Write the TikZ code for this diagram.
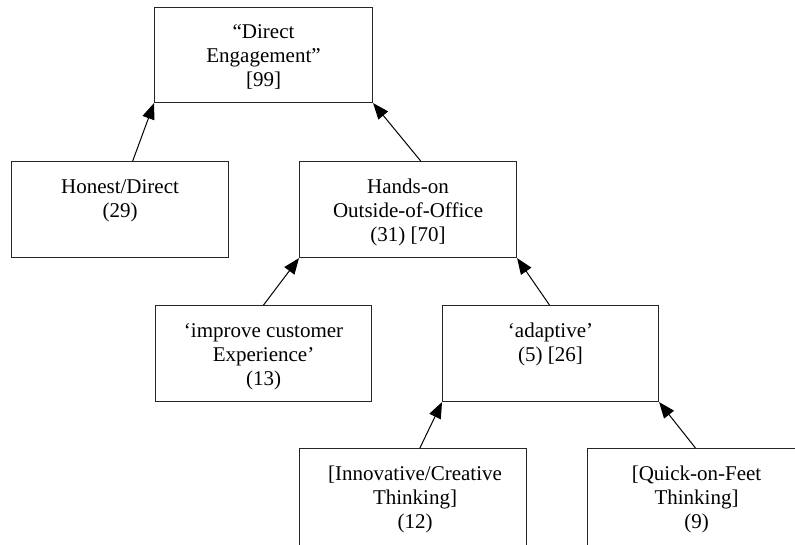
\documentclass[tikz,border=0pt]{standalone}
\usepackage{fontspec}
\setmainfont{Liberation Serif}
\usetikzlibrary{arrows.meta,calc}
\begin{document}
\begin{tikzpicture}[x=1pt,y=-1pt,
  boxnode/.style={draw=black!85,line width=1.1pt,inner sep=0pt,anchor=north west},
  txt/.style={anchor=north,inner sep=0pt,align=center,font=\fontsize{21}{24}\selectfont},
  link/.style={line width=1pt,-{Triangle[length=16pt,width=12.5pt]}}]
\useasboundingbox (0,0) rectangle (795,544);
\begin{scope}
\clip (0,0) rectangle (795,544);
\node[boxnode,minimum width=218pt,minimum height=95pt] (b1) at (154,7) {};
\node[boxnode,minimum width=217pt,minimum height=96pt] (b2) at (11,161) {};
\node[boxnode,minimum width=217pt,minimum height=96pt] (b3) at (299,161) {};
\node[boxnode,minimum width=216pt,minimum height=96pt] (b4) at (155,305) {};
\node[boxnode,minimum width=216pt,minimum height=96pt] (b5) at (442,305) {};
\node[boxnode,minimum width=227pt,minimum height=110pt] (b6) at (299,448) {};
\node[boxnode,minimum width=218pt,minimum height=110pt] (b7) at (587,448) {};
\end{scope}
\node[txt] (t1) at ($(b1.north)+(0,14.2)$) {\strut“Direct\\Engagement”\\{}[99]};
\node[txt] (t2) at ($(b2.north)+(0,15.2)$) {\strut Honest/Direct\\(29)};
\node[txt] (t3) at ($(b3.north)+(0,15.2)$) {\strut Hands-on\\Outside-of-Office\\(31) [70]};
\node[txt] (t4) at ($(b4.north)+(0,15.2)$) {\strut‘improve customer\\Experience’\\(13)};
\node[txt] (t5) at ($(b5.north)+(0,15.2)$) {\strut‘adaptive’\\(5) [26]};
\node[txt] (t6) at ($(b6.north)+(2,15.2)$) {\strut[Innovative/Creative\\Thinking]\\(12)};
\node[txt] (t7) at ($(b7.north)+(0,15.2)$) {\strut[Quick-on-Feet\\Thinking]\\(9)};
\draw[link] ($(b2.north west)!0.558!(b2.north east)$) -- (b1.south west);
\draw[link] ($(b3.north west)!0.558!(b3.north east)$) -- (b1.south east);
\draw[link] ($(b4.north west)!0.5!(b4.north east)$) -- (b3.south west);
\draw[link] ($(b5.north west)!0.495!(b5.north east)$) -- (b3.south east);
\draw[link] ($(b6.north west)!0.53!(b6.north east)$) -- (b5.south west);
\draw[link] ($(b7.north west)!0.495!(b7.north east)$) -- (b5.south east);
\end{tikzpicture}
\end{document}
